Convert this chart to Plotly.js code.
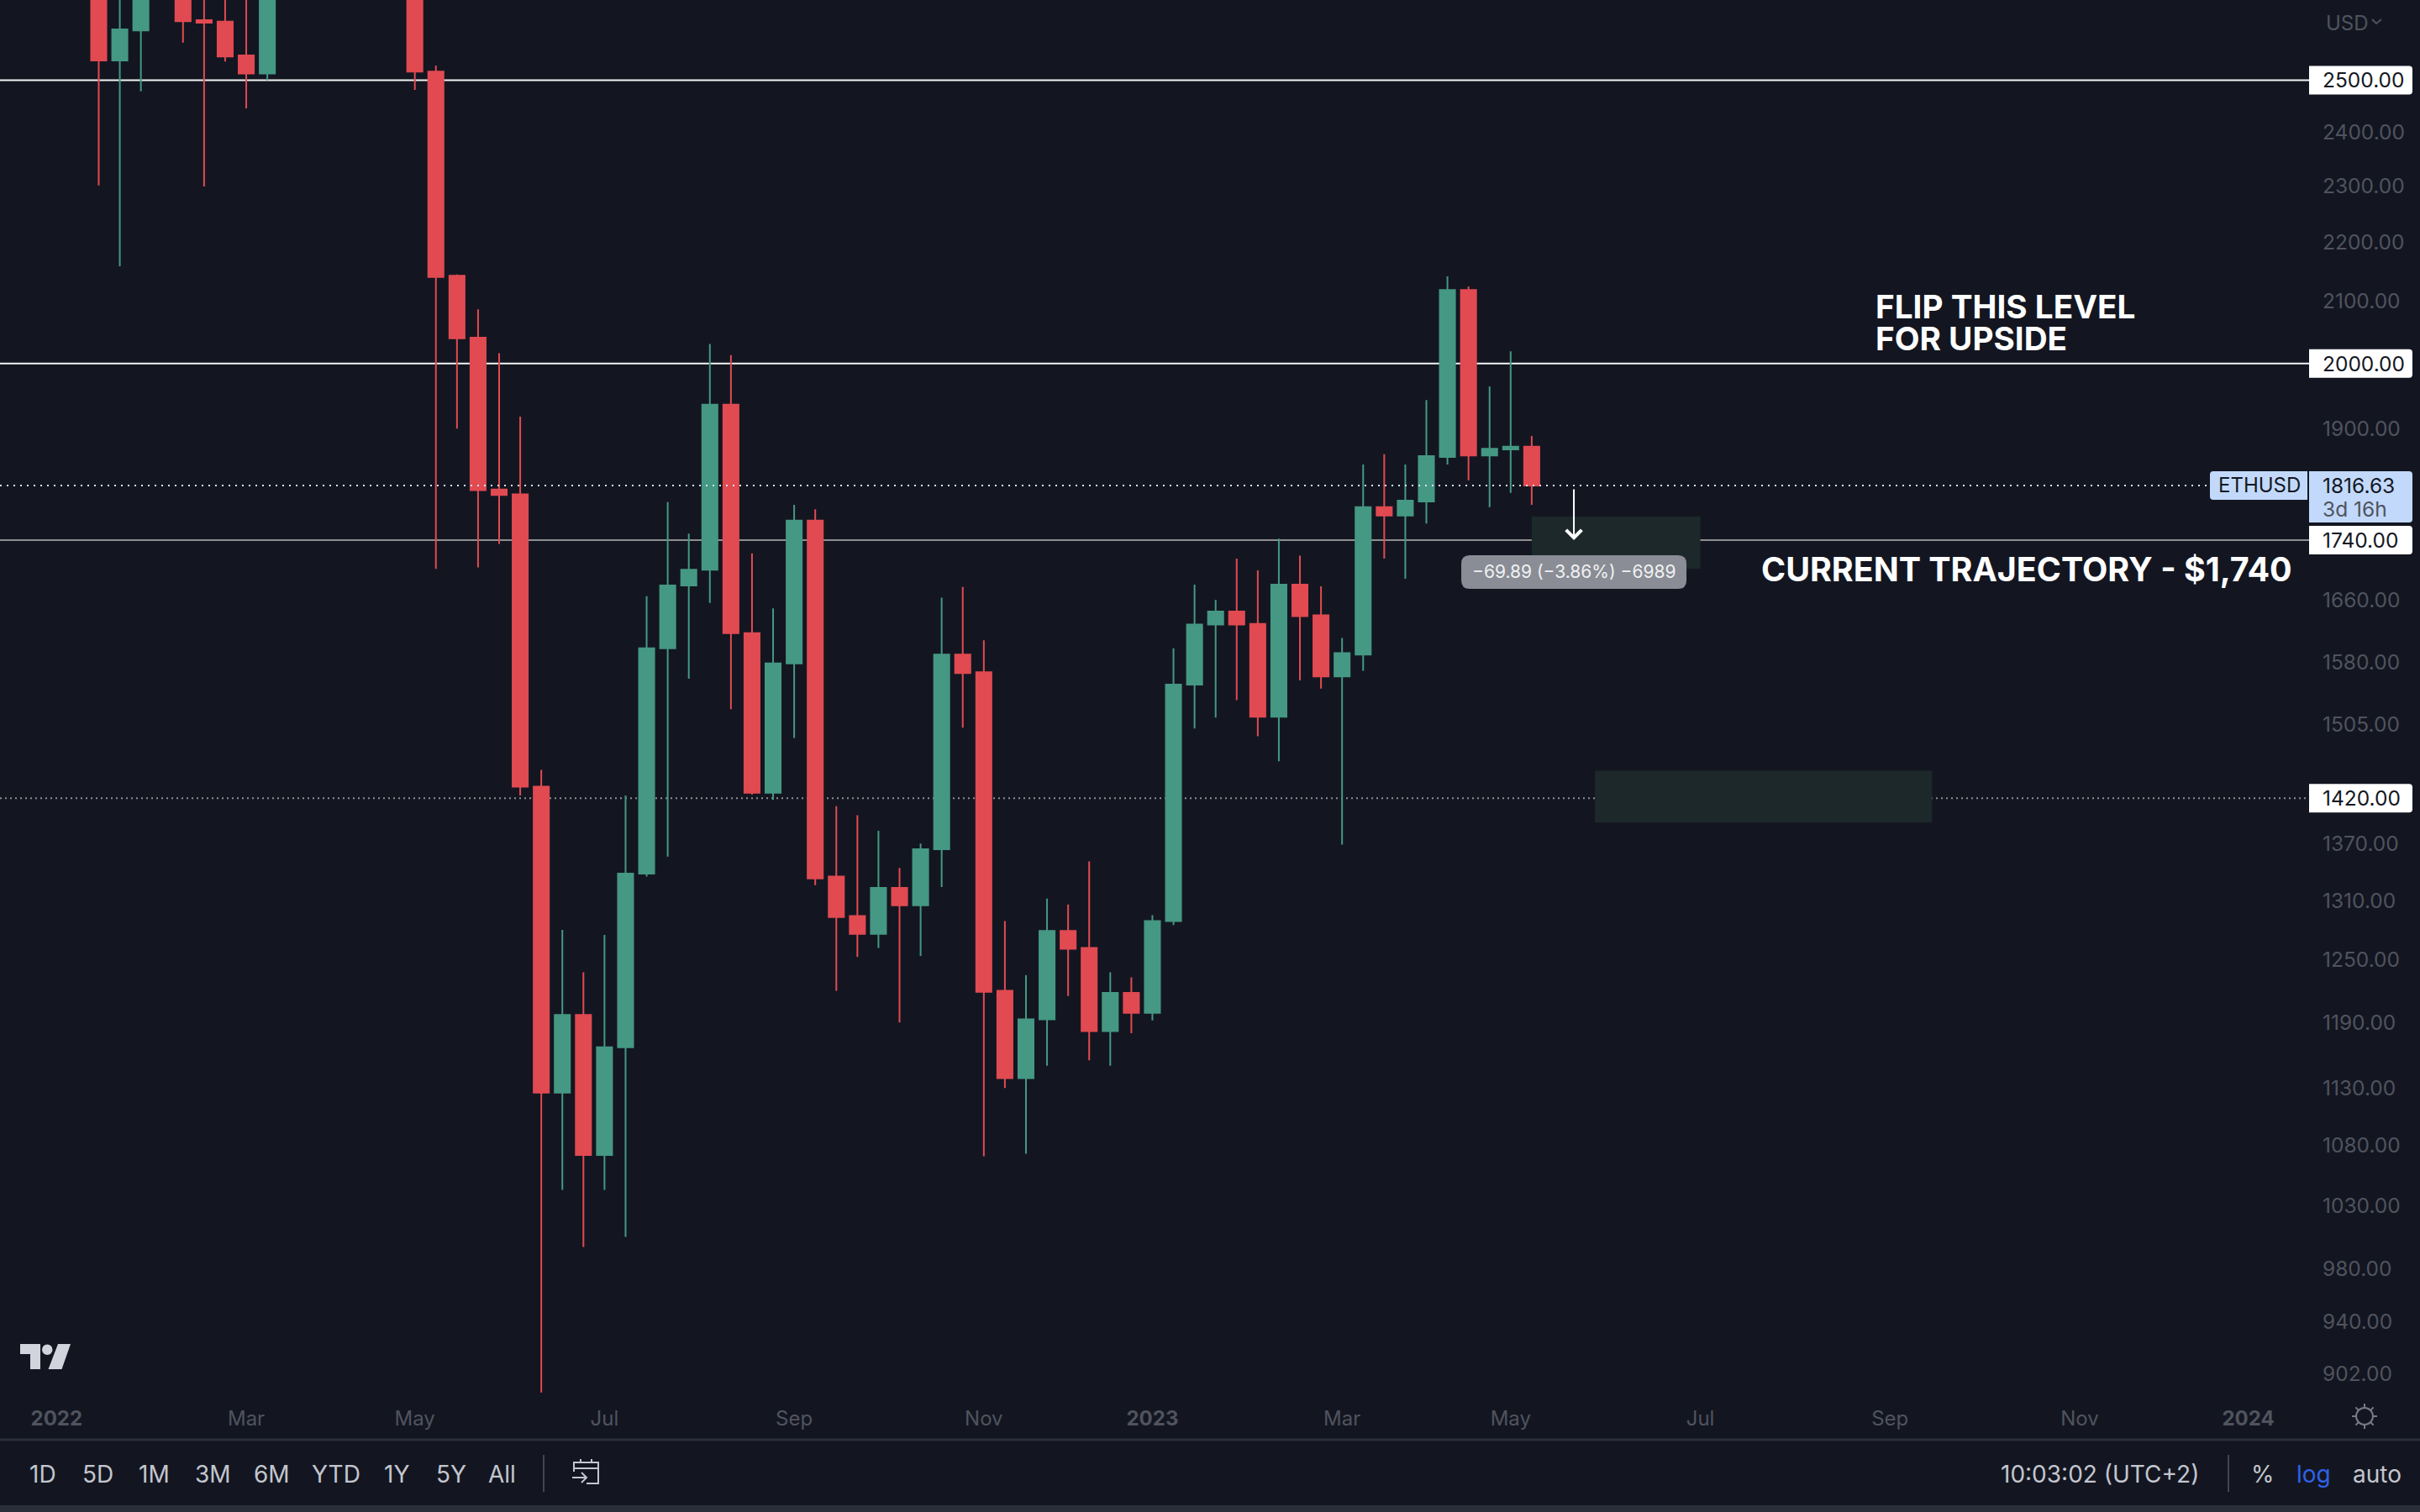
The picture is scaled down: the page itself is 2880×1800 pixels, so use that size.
<!DOCTYPE html>
<html>
<head>
<meta charset="utf-8">
<script src="https://cdn.plot.ly/plotly-3.0.1.min.js"></script>
<style>
    html, body { margin: 0; padding: 0; background: #131621; }
</style>
</head>
<body>
<div id="chart" style="width:2880px;height:1800px;"></div>
<script>
// weekly ETHUSD bars (bars above the top edge are estimates)
const weeks = [
    '2022-01-17', '2022-01-24', '2022-01-31', '2022-02-07', '2022-02-14', '2022-02-21', '2022-02-28', '2022-03-07',
    '2022-03-14', '2022-03-21', '2022-03-28', '2022-04-04', '2022-04-11', '2022-04-18', '2022-04-25', '2022-05-02',
    '2022-05-09', '2022-05-16', '2022-05-23', '2022-05-30', '2022-06-06', '2022-06-13', '2022-06-20', '2022-06-27',
    '2022-07-04', '2022-07-11', '2022-07-18', '2022-07-25', '2022-08-01', '2022-08-08', '2022-08-15', '2022-08-22',
    '2022-08-29', '2022-09-05', '2022-09-12', '2022-09-19', '2022-09-26', '2022-10-03', '2022-10-10', '2022-10-17',
    '2022-10-24', '2022-10-31', '2022-11-07', '2022-11-14', '2022-11-21', '2022-11-28', '2022-12-05', '2022-12-12',
    '2022-12-19', '2022-12-26', '2023-01-02', '2023-01-09', '2023-01-16', '2023-01-23', '2023-01-30', '2023-02-06',
    '2023-02-13', '2023-02-20', '2023-02-27', '2023-03-06', '2023-03-13', '2023-03-20', '2023-03-27', '2023-04-03',
    '2023-04-10', '2023-04-17', '2023-04-24', '2023-05-01', '2023-05-08',
];
const opens = [
    3160, 2539, 2600, 3070, 2880, 2621, 2618, 2549, 2513, 2950, 3090, 3450, 3240, 3040, 2920, 2830,
    2517, 2143, 2041, 1811, 1804, 1433, 1126, 1197, 1072, 1167, 1338, 1598, 1679, 1700, 1936, 1617,
    1426, 1579, 1767, 1335, 1294, 1276, 1323, 1305, 1364, 1590, 1568, 1220, 1139, 1193, 1279, 1262,
    1182, 1218, 1199, 1289, 1553, 1628, 1645, 1629, 1514, 1680, 1640, 1563, 1590, 1786, 1774, 1794,
    1858, 2119, 1860, 1869, 1873,
];
const highs = [
    3270, 2725, 3180, 3280, 3200, 2830, 2970, 2730, 3040, 3150, 3480, 3570, 3320, 3190, 3030, 2960,
    2529, 2145, 2087, 2016, 1918, 1452, 1280, 1238, 1275, 1423, 1665, 1793, 1749, 2031, 2013, 1722,
    1649, 1789, 1783, 1411, 1401, 1384, 1344, 1370, 1663, 1677, 1608, 1289, 1235, 1312, 1306, 1351,
    1238, 1233, 1295, 1598, 1680, 1660, 1715, 1699, 1742, 1719, 1678, 1611, 1847, 1862, 1847, 1943,
    2142, 2125, 1964, 2019, 1889,
];
const lows = [
    2301, 2159, 2478, 2880, 2575, 2299, 2537, 2445, 2500, 2880, 3040, 3160, 2950, 2790, 2700, 2481,
    1701, 1900, 1703, 1735, 1423, 889, 1043, 997, 1043, 1005, 1335, 1356, 1560, 1656, 1523, 1424,
    1418, 1489, 1326, 1220, 1253, 1262, 1190, 1254, 1324, 1501, 1071, 1130, 1073, 1150, 1215, 1155,
    1150, 1180, 1192, 1285, 1500, 1513, 1534, 1491, 1462, 1558, 1548, 1369, 1570, 1715, 1688, 1763,
    1847, 1824, 1786, 1806, 1789,
];
const closes = [
    2539, 2602, 3070, 2880, 2619, 2616, 2547, 2513, 2950, 3090, 3450, 3240, 3040, 2920, 2830, 2517,
    2141, 2040, 1810, 1803, 1433, 1126, 1197, 1072, 1167, 1338, 1598, 1679, 1700, 1936, 1617, 1426,
    1579, 1767, 1333, 1293, 1276, 1323, 1305, 1364, 1590, 1567, 1219, 1139, 1193, 1279, 1261, 1182,
    1218, 1199, 1289, 1553, 1628, 1645, 1628, 1514, 1680, 1639, 1563, 1592, 1786, 1774, 1795, 1859,
    2119, 1860, 1870, 1873, 1816.63,
];

const priceTicks = [2400, 2300, 2200, 2100, 1900, 1660, 1580, 1505, 1370, 1310, 1250, 1190, 1130, 1080, 1030, 980, 940, 902];
const timeTicks = ['2022-01-03', '2022-03-07', '2022-05-02', '2022-07-04', '2022-09-05', '2022-11-07', '2023-01-02', '2023-03-06', '2023-05-01', '2023-07-03', '2023-09-04', '2023-11-06', '2024-01-01'];
const timeLabels = ['<b>2022</b>', 'Mar', 'May', 'Jul', 'Sep', 'Nov', '<b>2023</b>', 'Mar', 'May', 'Jul', 'Sep', 'Nov', '<b>2024</b>'];

const solidLevels = [2500, 2000];
const mutedLevel = 1740;
const dottedLevel = 1420;
const lastPrice = 1816.63;

const zones = [
    { start: '2023-05-08', end: '2023-07-03', top: 1773, bottom: 1701 },
    { start: '2023-05-29', end: '2023-09-18', top: 1451, bottom: 1393 },
];
const measureWeek = '2023-05-22';
const measureFrom = 1813;
const measureTo = 1740;
const measureLabel = '\u221269.89 (\u22123.86%) \u22126989';
const measureLabelPrice = 1697;

const rangeButtons = ['1D', '5D', '1M', '3M', '6M', 'YTD', '1Y', '5Y', 'All'];
const rangeButtonLefts = [36, 99, 166, 233, 303, 372, 458, 520, 582];

const BG = '#131621';
const RED = '#e14a51';
const GREEN = '#459883';
const AXIS_TEXT = '#50535e';
const TOOL_TEXT = '#c3c6ce';
const TAG_BLUE = '#c2d9fb';
const FONT = 'Inter, "Noto Sans", sans-serif';

const PLOT_W = 2748;
const PLOT_H = 1665;

// page pixels -> paper coordinates, used for the surrounding chrome only
const xp = v => v / PLOT_W;
const yp = v => (PLOT_H - v) / PLOT_H;
const polyline = pts => pts.map((p, i) => `${i ? 'L' : 'M'}${xp(p[0])},${yp(p[1])}`).join(' ');

const chromeLine = (pts, color, width) => ({
    type: 'path',
    xref: 'paper',
    yref: 'paper',
    path: polyline(pts),
    line: { color, width },
});

// box in pixels around an anchor, y going up; radii are tl, tr, br, bl
const boxPath = (x0, x1, top, bottom, r) => [
    `M${x0 + r[0]},${top}`,
    `L${x1 - r[1]},${top}`,
    `Q${x1},${top} ${x1},${top - r[1]}`,
    `L${x1},${bottom + r[2]}`,
    `Q${x1},${bottom} ${x1 - r[2]},${bottom}`,
    `L${x0 + r[3]},${bottom}`,
    `Q${x0},${bottom} ${x0},${bottom + r[3]}`,
    `L${x0},${top - r[0]}`,
    `Q${x0},${top} ${x0 + r[0]},${top}`,
    'Z',
].join(' ');

const priceBox = (price, x0, x1, top, bottom, r, color) => ({
    type: 'path',
    xref: 'paper',
    yref: 'y',
    xsizemode: 'pixel',
    ysizemode: 'pixel',
    xanchor: 1,
    yanchor: price,
    path: boxPath(x0, x1, top, bottom, r),
    fillcolor: color,
    line: { width: 0 },
    layer: 'above',
});

const priceText = (price, text, color, size, shiftX, shiftY) => ({
    xref: 'paper',
    yref: 'y',
    x: 1,
    y: Math.log10(price),
    xanchor: 'left',
    yanchor: 'middle',
    xshift: shiftX,
    yshift: shiftY || 0,
    showarrow: false,
    text,
    font: { family: FONT, size, color },
});

const pageText = (text, left, middle, color, size) => ({
    xref: 'paper',
    yref: 'paper',
    x: xp(left - 3),
    y: yp(middle),
    xanchor: 'left',
    yanchor: 'middle',
    showarrow: false,
    text,
    font: { family: FONT, size, color },
});

const calloutText = (text, left, price, size) => ({
    xref: 'paper',
    yref: 'y',
    x: xp(left - 3),
    y: Math.log10(price),
    xanchor: 'left',
    yanchor: 'middle',
    showarrow: false,
    text,
    font: { family: FONT, size, color: '#ffffff', weight: 700 },
});

const candles = {
    type: 'candlestick',
    x: weeks,
    open: opens,
    high: highs,
    low: lows,
    close: closes,
    increasing: { line: { color: GREEN, width: 2 }, fillcolor: GREEN },
    decreasing: { line: { color: RED, width: 2 }, fillcolor: RED },
    hoverinfo: 'none',
    showlegend: false,
};

// levels and zones sit behind the candles, the last price line on top
const shapes = [];
zones.forEach((z) => {
    shapes.push({
        type: 'rect',
        xref: 'x',
        yref: 'y',
        x0: z.start,
        x1: z.end,
        y0: z.bottom,
        y1: z.top,
        fillcolor: '#1c2829',
        line: { width: 0 },
        layer: 'below',
    });
});
solidLevels.forEach((level) => {
    shapes.push({
        type: 'line',
        xref: 'paper',
        yref: 'y',
        x0: 0,
        x1: 1,
        y0: level,
        y1: level,
        line: { color: '#f4f4f4', width: 2 },
        layer: 'below',
    });
});
shapes.push({
    type: 'line',
    xref: 'paper',
    yref: 'y',
    x0: 0,
    x1: 1,
    y0: mutedLevel,
    y1: mutedLevel,
    line: { color: '#8f8f92', width: 2 },
    layer: 'below',
});
shapes.push({
    type: 'line',
    xref: 'paper',
    yref: 'y',
    x0: 0,
    x1: 1,
    y0: dottedLevel,
    y1: dottedLevel,
    line: { color: '#8f8f92', width: 2, dash: '2px,4px' },
    layer: 'below',
});
shapes.push({
    type: 'line',
    xref: 'paper',
    yref: 'y',
    x0: 0,
    x1: xp(2630),
    y0: lastPrice,
    y1: lastPrice,
    line: { color: '#d5e4fb', width: 2, dash: '2px,6px' },
    layer: 'above',
});

// tags on the price scale
[solidLevels[0], solidLevels[1], mutedLevel, dottedLevel].forEach((level) => {
    shapes.push(priceBox(level, 0, 123, 17, -17, [0, 4, 4, 0], '#ffffff'));
});
shapes.push(priceBox(lastPrice, 0, 123, 17, -44, [0, 4, 4, 0], TAG_BLUE));
shapes.push(priceBox(lastPrice, -118, -2, 17, -17, [4, 0, 0, 4], TAG_BLUE));

// measure tooltip
shapes.push({
    type: 'path',
    xref: 'x',
    yref: 'y',
    xsizemode: 'pixel',
    ysizemode: 'pixel',
    xanchor: measureWeek,
    yanchor: measureLabelPrice,
    path: boxPath(-134, 134, 20, -20, [10, 10, 10, 10]),
    fillcolor: '#8a8d95',
    line: { width: 0 },
    layer: 'above',
});

// separator, bottom strip and toolbar dividers
shapes.push(chromeLine([[0, 1714], [2880, 1714]], '#2a2e39', 3));
shapes.push({
    type: 'rect',
    xref: 'paper',
    yref: 'paper',
    x0: 0,
    x1: xp(2880),
    y0: yp(1792),
    y1: yp(1800),
    fillcolor: '#2a2e39',
    line: { width: 0 },
});
shapes.push(chromeLine([[647, 1732], [647, 1776]], '#434651', 2));
shapes.push(chromeLine([[2652, 1732], [2652, 1776]], '#434651', 2));

// currency chevron
shapes.push(chromeLine([[2823, 23], [2828, 28], [2834, 23]], AXIS_TEXT, 2));

// TradingView mark
shapes.push({
    type: 'path',
    xref: 'paper',
    yref: 'paper',
    path: `${polyline([[24, 1600], [48, 1600], [48, 1630], [36, 1630], [36, 1612], [24, 1612]])} Z `
        + `${polyline([[69, 1600], [84, 1600], [73.5, 1630], [57.5, 1630]])} Z`,
    fillcolor: '#d1d4dc',
    line: { width: 0 },
});
shapes.push({
    type: 'circle',
    xref: 'paper',
    yref: 'paper',
    x0: xp(50),
    x1: xp(62.5),
    y0: yp(1613),
    y1: yp(1600.5),
    fillcolor: '#d1d4dc',
    line: { width: 0 },
});

// calendar icon
shapes.push(chromeLine([[683, 1752], [683, 1741], [712, 1741], [712, 1766], [698, 1766]], TOOL_TEXT, 2));
shapes.push(chromeLine([[683, 1748], [712, 1748]], TOOL_TEXT, 2));
shapes.push(chromeLine([[691, 1737], [691, 1741]], TOOL_TEXT, 2));
shapes.push(chromeLine([[704, 1737], [704, 1741]], TOOL_TEXT, 2));
shapes.push(chromeLine([[681, 1759], [698, 1759]], TOOL_TEXT, 2));
shapes.push(chromeLine([[692, 1753], [698, 1759], [692, 1765]], TOOL_TEXT, 2));

// sun icon next to the time axis
shapes.push({
    type: 'circle',
    xref: 'paper',
    yref: 'paper',
    x0: xp(2804),
    x1: xp(2824),
    y0: yp(1696),
    y1: yp(1676),
    line: { color: '#787b86', width: 2 },
});
[0, 45, 90, 135, 180, 225, 270, 315].forEach((deg) => {
    const a = deg * Math.PI / 180;
    shapes.push(chromeLine([
        [2814 + 10 * Math.cos(a), 1686 + 10 * Math.sin(a)],
        [2814 + 15 * Math.cos(a), 1686 + 15 * Math.sin(a)],
    ], '#787b86', 2));
});

const annotations = [
    priceText(solidLevels[0], solidLevels[0].toFixed(2), '#131722', 24.5, 14),
    priceText(solidLevels[1], solidLevels[1].toFixed(2), '#131722', 24.5, 14),
    priceText(mutedLevel, mutedLevel.toFixed(2), '#131722', 24.5, 14),
    priceText(dottedLevel, dottedLevel.toFixed(2), '#131722', 24.5, 14),
    priceText(lastPrice, lastPrice.toFixed(2), '#131722', 24.5, 14),
    priceText(lastPrice, '3d 16h', '#50535e', 24.5, 14, -28),
    priceText(lastPrice, 'ETHUSD', '#131722', 24, -110),
    calloutText('FLIP THIS LEVEL', 2233, 2091.6, 38.7),
    calloutText('FOR UPSIDE', 2233, 2039, 38.7),
    calloutText('CURRENT TRAJECTORY - $1,740', 2097, 1700.6, 39.4),
    {
        xref: 'x',
        yref: 'y',
        axref: 'x',
        ayref: 'y',
        x: measureWeek,
        y: Math.log10(measureTo),
        ax: measureWeek,
        ay: Math.log10(measureFrom),
        text: '',
        showarrow: true,
        arrowhead: 4,
        arrowsize: 1.8,
        arrowwidth: 2,
        arrowcolor: '#ffffff',
        standoff: 0,
        startstandoff: 0,
    },
    {
        xref: 'x',
        yref: 'y',
        x: measureWeek,
        y: Math.log10(measureLabelPrice),
        xanchor: 'center',
        yanchor: 'middle',
        showarrow: false,
        text: measureLabel,
        font: { family: FONT, size: 21, color: '#f0f1f3' },
    },
    pageText('USD', 2769, 28, AXIS_TEXT, 24),
    pageText('10:03:02 (UTC+2)', 2382, 1755, TOOL_TEXT, 28),
    pageText('%', 2680, 1755, TOOL_TEXT, 28),
    pageText('log', 2734, 1755, '#2f62e8', 28),
    pageText('auto', 2801, 1755, TOOL_TEXT, 28),
];
rangeButtons.forEach((label, i) => {
    annotations.push(pageText(label, rangeButtonLefts[i], 1755, TOOL_TEXT, 28));
});

const layout = {
    width: 2880,
    height: 1800,
    autosize: false,
    showlegend: false,
    paper_bgcolor: BG,
    plot_bgcolor: BG,
    boxgap: 0.28,
    boxgroupgap: 0,
    hovermode: false,
    margin: { l: 0, r: 132, t: 0, b: 135, pad: 0 },
    font: { family: FONT, color: AXIS_TEXT },
    xaxis: {
        type: 'date',
        range: ['2021-12-15 05:00', '2024-01-21 05:00'],
        rangeslider: { visible: false },
        showgrid: false,
        zeroline: false,
        showline: false,
        ticks: '',
        ticklabelstandoff: 7,
        tickmode: 'array',
        tickvals: timeTicks,
        ticktext: timeLabels,
        tickangle: 0,
        tickfont: { family: FONT, size: 24, color: AXIS_TEXT },
    },
    yaxis: {
        type: 'log',
        side: 'right',
        range: [Math.log10(884.8), Math.log10(2663)],
        showgrid: false,
        zeroline: false,
        showline: false,
        ticks: '',
        ticklabelstandoff: 15,
        tickmode: 'array',
        tickvals: priceTicks,
        ticktext: priceTicks.map(p => p.toFixed(2)),
        tickfont: { family: FONT, size: 24.5, color: AXIS_TEXT },
    },
    shapes,
    annotations,
};

Plotly.newPlot('chart', [candles], layout, { displayModeBar: false, staticPlot: true });
</script>
</body>
</html>
